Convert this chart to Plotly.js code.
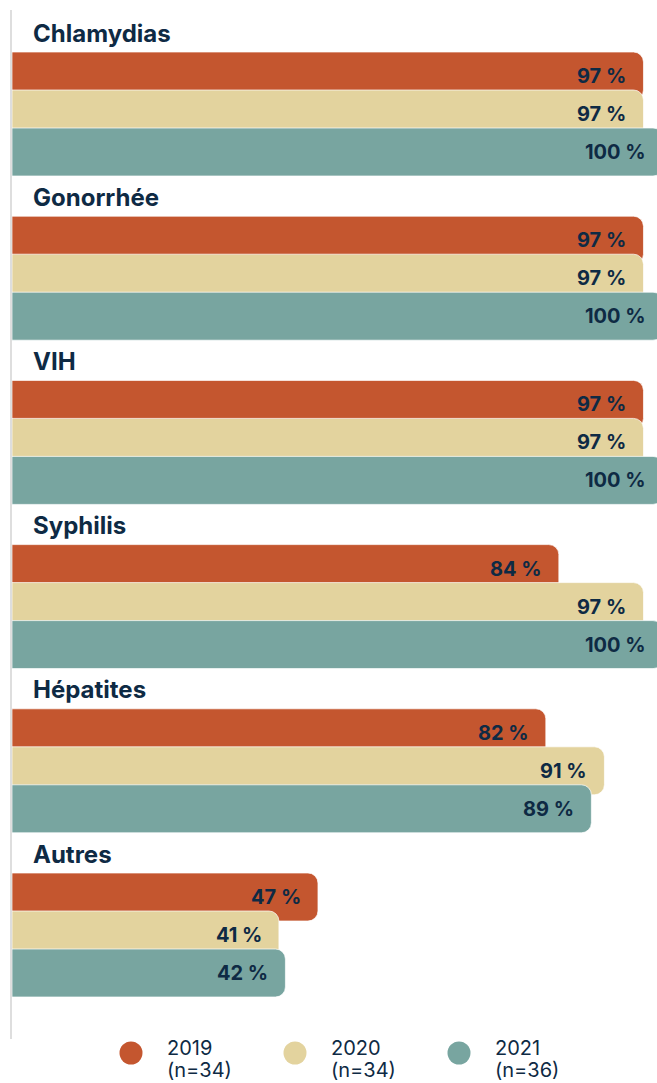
<!DOCTYPE html>
<html>
<head>
<meta charset="utf-8">
<script src="https://cdn.plot.ly/plotly-3.0.1.min.js"></script>
<style>html,body{margin:0;padding:0;background:#fff;overflow:hidden}#chart{width:657px;height:1083px}</style>
</head>
<body>
<div id="chart"></div>
<script>
var categories = ['Chlamydias', 'Gonorrhée', 'VIH', 'Syphilis', 'Hépatites', 'Autres'];
var v2019 = [97, 97, 97, 84, 82, 47];
var v2020 = [97, 97, 97, 97, 91, 41];
var v2021 = [100, 100, 100, 100, 89, 42];
var seriesNames = ['2019', '2020', '2021'];
var seriesN = ['(n=34)', '(n=34)', '(n=36)'];

var colors = ['#c4562f', '#e3d39e', '#78a5a0'];
var navy = '#0e2a44';
var FONT = 'Inter, "Open Sans", sans-serif';
var values = [v2019, v2020, v2021];

// geometry (pixels)
var W = 657, H = 1083, mL = 12, mT = 10, mB = 44;
var plotH = H - mT - mB;
var groupPx = 164.2, barPx = 48, stepPx = 38, firstBarTop = 52;
var unit = 1 / groupPx;
var yTop = -(firstBarTop - mT) * unit;
var yBot = yTop + plotH * unit;
var pxPerPct = 6.51;
var xMax = (W - mL) / pxPerPct;

var annotations = [];

var traces = values.map(function (vals, i) {
  var off = i * stepPx * unit, wd = barPx * unit;
  vals.forEach(function (v, k) {
    // value label: x expressed as fraction of the x-axis domain so labels of
    // bars running past the visible edge are still drawn
    annotations.push({
      x: v / xMax, y: k + off + wd / 2, xref: 'x domain', yref: 'y',
      xanchor: 'right', yanchor: 'middle', xshift: -15,
      text: v + ' %', showarrow: false,
      font: { family: FONT, size: 20, color: navy, weight: 700 }
    });
  });
  return {
    type: 'bar',
    orientation: 'h',
    y: categories,
    x: vals,
    name: seriesNames[i],
    offset: off,
    width: wd,
    marker: { color: colors[i], line: { color: 'rgba(255,255,255,0.7)', width: 1 } },
    hoverinfo: 'x+y',
    showlegend: false
  };
});

categories.forEach(function (c) {
  annotations.push({
    x: 0, y: c, xref: 'x', yref: 'y',
    xanchor: 'left', yanchor: 'middle',
    xshift: 19, yshift: 19,
    text: '<b>' + c + '</b>', showarrow: false,
    font: { family: FONT, size: 24, color: navy }
  });
});

var shapes = [];
var legendCx = [131, 295, 459];
var legendCy = 1053;
function px2paperX(X) { return (X - mL) / (W - mL); }
function px2paperY(Y) { return (H - mB - Y) / plotH; }
seriesNames.forEach(function (s, i) {
  shapes.push({
    type: 'circle', xref: 'paper', yref: 'paper',
    xsizemode: 'pixel', ysizemode: 'pixel',
    xanchor: px2paperX(legendCx[i]), yanchor: px2paperY(legendCy),
    x0: -11.5, x1: 11.5, y0: -11.5, y1: 11.5,
    fillcolor: colors[i], line: { width: 0 }
  });
  annotations.push({
    x: px2paperX(legendCx[i] + 34), y: px2paperY(1048), xref: 'paper', yref: 'paper',
    xanchor: 'left', yanchor: 'middle', align: 'left',
    text: s, showarrow: false,
    font: { family: FONT, size: 20, color: navy }
  });
  annotations.push({
    x: px2paperX(legendCx[i] + 34), y: px2paperY(1070), xref: 'paper', yref: 'paper',
    xanchor: 'left', yanchor: 'middle', align: 'left',
    text: seriesN[i], showarrow: false,
    font: { family: FONT, size: 20, color: navy }
  });
});

var layout = {
  width: W, height: H,
  margin: { l: mL, r: 0, t: mT, b: mB, pad: 0 },
  paper_bgcolor: '#fff', plot_bgcolor: '#fff',
  barmode: 'overlay',
  barcornerradius: 10,
  showlegend: false,
  xaxis: { range: [0, xMax], visible: false, fixedrange: true },
  yaxis: {
    type: 'category', range: [yBot, yTop], autorange: false,
    showticklabels: false, showgrid: false, zeroline: false, ticks: '',
    showline: true, linecolor: '#dedede', linewidth: 2, fixedrange: true
  },
  annotations: annotations,
  shapes: shapes
};

Plotly.newPlot('chart', traces, layout, { displayModeBar: false, staticPlot: true });
</script>
</body>
</html>
